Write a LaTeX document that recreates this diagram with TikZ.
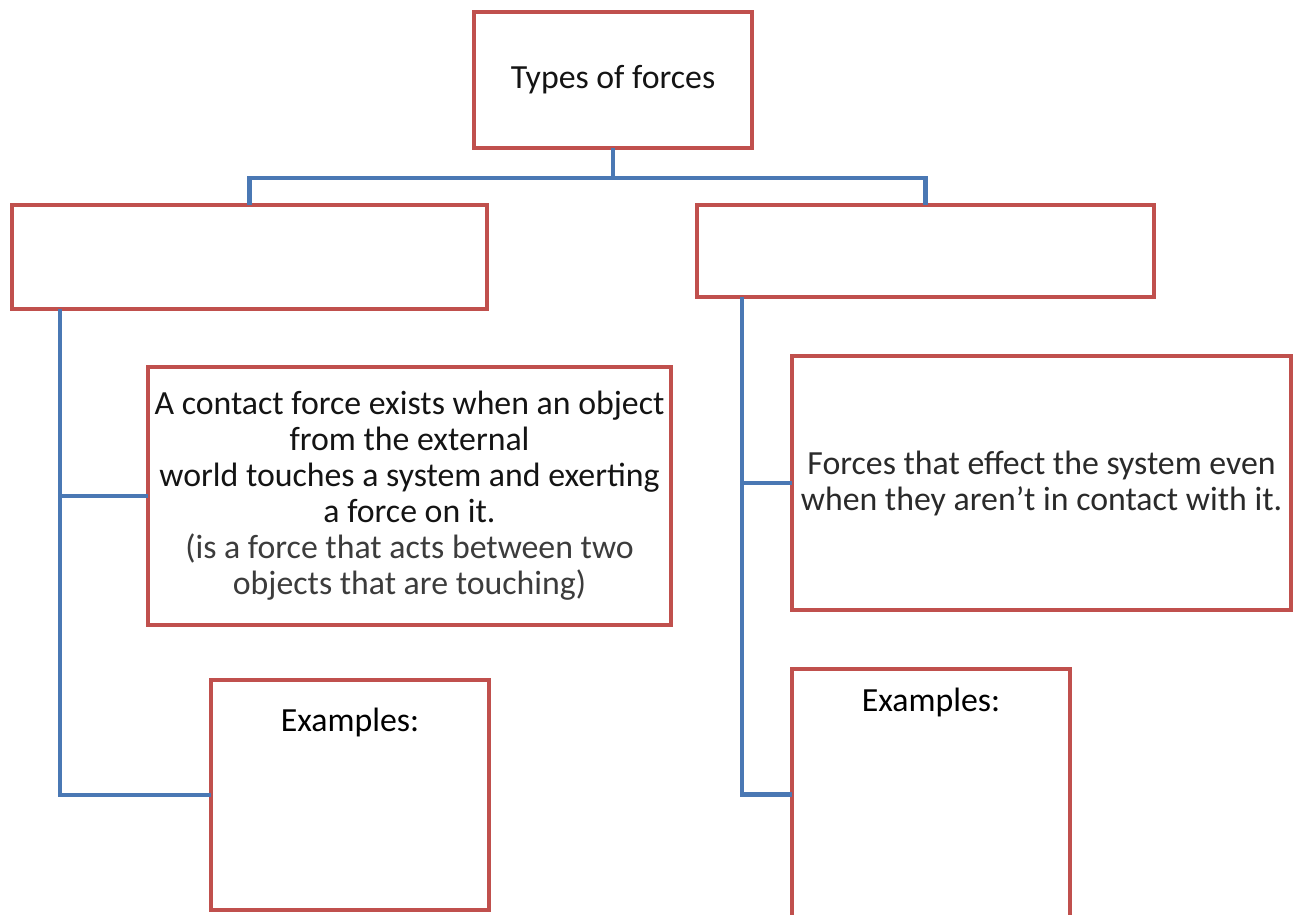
\documentclass[tikz,border=0pt]{standalone}
\usepackage{fontspec}
\setmainfont{Carlito}
\definecolor{boxred}{HTML}{C0504D}
\definecolor{linkblue}{HTML}{4A78B4}
\definecolor{txtgray}{HTML}{3C3C3C}
\begin{document}
\begin{tikzpicture}[x=1pt,y=-1pt,
  box/.style={draw=boxred, line width=4.8pt, rectangle, outer sep=0pt, inner sep=0pt, align=center,
    font=\fontsize{33.8}{36}\selectfont, text=black!92},
  link/.style={draw=linkblue, line width=4.8pt}]
\useasboundingbox (0,0) rectangle (1294,914);
\fill[white] (0,0) rectangle (1294,914);
\node[box, minimum width=278pt, minimum height=136pt] (top) at (613,80) {Types of forces};
\node[box, minimum width=475pt, minimum height=104pt] (L) at (249.5,257) {};
\node[box, minimum width=457pt, minimum height=92pt] (R) at (925.5,251) {};
\node[box, minimum width=523pt, minimum height=258pt] (C) at (409.5,496)
  {A contact force exists when an object\\from the external\\world touches a system and exerting\\a force on it.\\\textcolor{txtgray}{(is a force that acts between two}\\\textcolor{txtgray}{objects that are touching)}};
\node[box, minimum width=278pt, minimum height=230pt,
  label={[anchor=base, yshift=-51pt, font=\fontsize{33.8}{36}\selectfont]north:{Examples:}}] (LE) at (350,795) {};
\node[box, minimum width=499pt, minimum height=254pt, text=txtgray!70!black] (RT) at (1041.5,483)
  {Forces that effect the system even\\when they aren’t in contact with it.};
\node[box, minimum width=278pt, minimum height=251pt,
  label={[anchor=base, yshift=-42pt, font=\fontsize{33.8}{36}\selectfont]north:{Examples:}}] (RE) at (931,794.5) {};
\coordinate (bus) at (613,178);
\coordinate (lv) at (60,309);
\coordinate (rv) at (742,297);
\draw[link] (top.south) -- (bus);
\draw[link] (L.north) |- (bus) -| (R.north);
\draw[link] (lv) |- (C.west);
\draw[link] (lv) |- (LE.west);
\draw[link] (rv) |- (RT.west);
\draw[link] (rv) |- (RE.west);
\end{tikzpicture}
\end{document}
